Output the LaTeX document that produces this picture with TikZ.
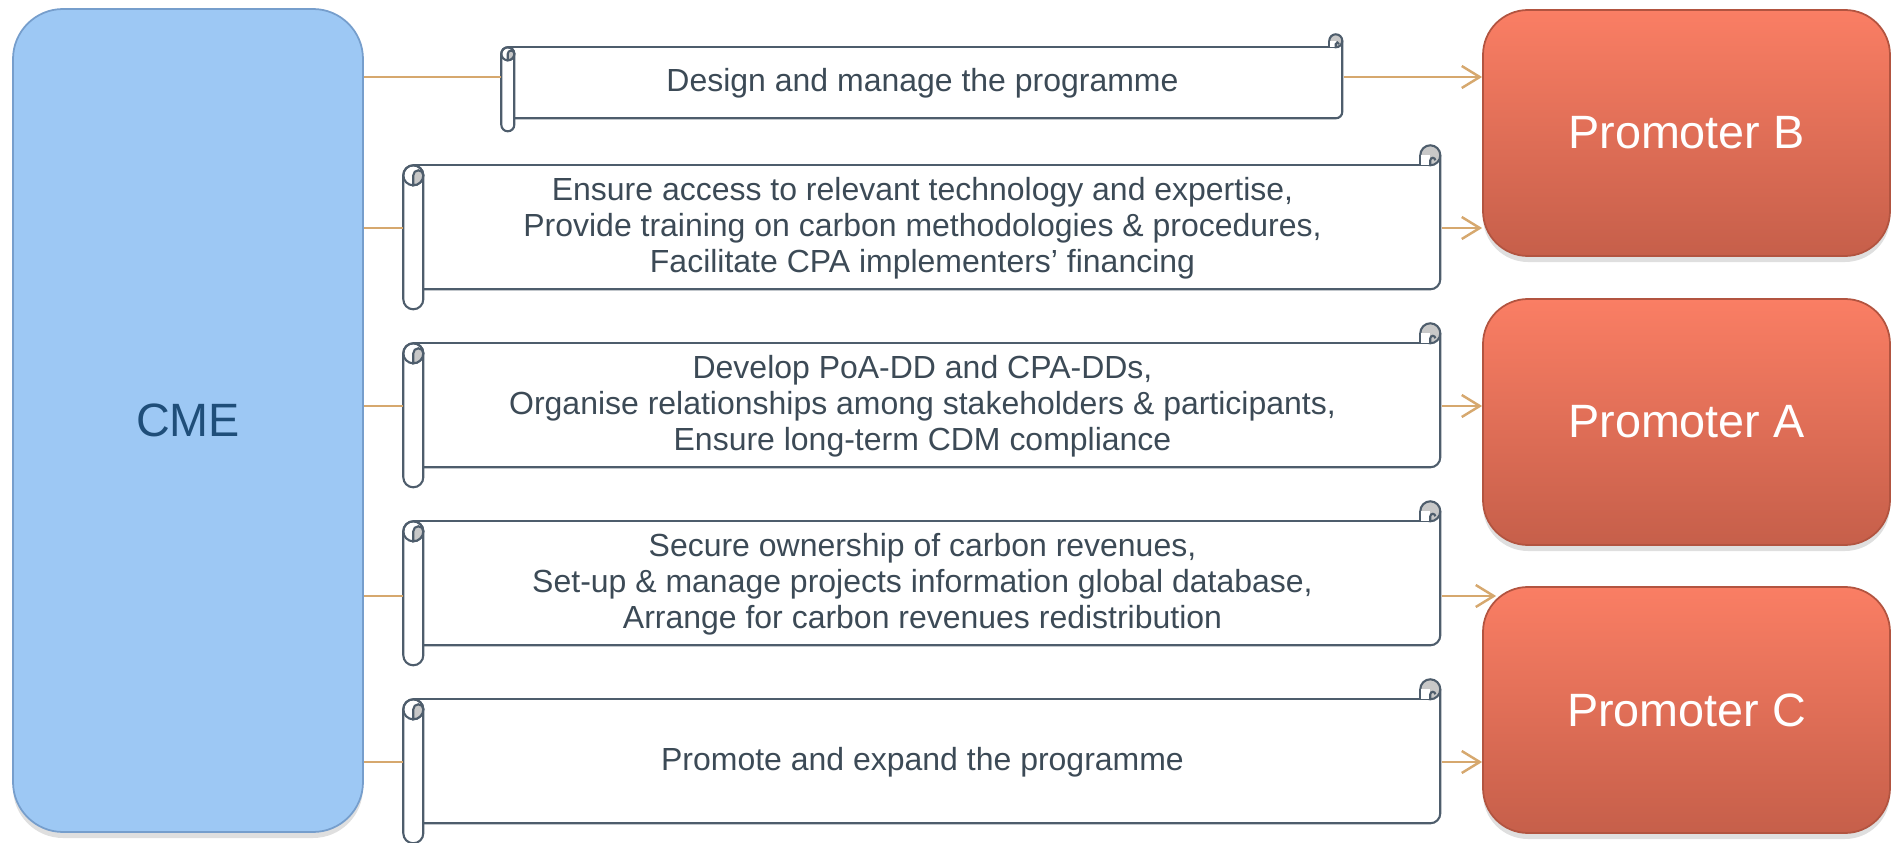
\documentclass[tikz,border=0pt]{standalone}
\usepackage{fontspec}
\setmainfont{Liberation Sans}
\usetikzlibrary{arrows.meta,calc,shadows}

\definecolor{cmeblue}{RGB}{157,200,244}
\definecolor{cmeedge}{RGB}{118,158,204}
\definecolor{cmetext}{RGB}{31,78,121}
\definecolor{promtop}{RGB}{250,126,100}
\definecolor{prombot}{RGB}{198,95,74}
\definecolor{promedge}{RGB}{178,84,64}
\definecolor{scrollgrey}{RGB}{78,93,108}
\definecolor{scrolltext}{RGB}{60,74,86}
\definecolor{curlgrey}{RGB}{200,200,200}
\definecolor{linktan}{RGB}{214,168,110}

\tikzset{
  cmebox/.style={rectangle, rounded corners=0.5cm, fill=cmeblue, draw=cmeedge,
    line width=0.5pt, text=cmetext, font=\fontsize{13.3}{16}\selectfont,
    drop shadow={shadow xshift=0pt, shadow yshift=-0.6mm, opacity=0.25}},
  promoter/.style={rectangle, rounded corners=0.45cm, top color=promtop,
    bottom color=prombot, draw=promedge, line width=0.5pt, text=white,
    minimum width=4.07cm, minimum height=2.46cm,
    font=\fontsize{13.3}{16}\selectfont,
    drop shadow={shadow xshift=0pt, shadow yshift=-0.6mm, opacity=0.25}},
  scrollbox/.style={rectangle, inner sep=0pt, align=center, text=scrolltext,
    font=\fontsize{9.1}{10.3}\selectfont},
  scrolline/.style={draw=scrollgrey, line width=0.6pt},
  link/.style={draw=linktan, line width=0.7pt},
  linkarrow/.style={link, -{Straight Barb[length=1.8mm,width=2.2mm]}}
}

% scroll outline round a node: #1 node, #2 roll radius, #3 width, #4 height
\newcommand{\scrollframe}[4]{%
  \begin{scope}[shift={(#1.north west)}]
    % paper
    \draw[scrolline] (#2,0) -- (#3-#2,0);
    \draw[scrolline] (#3,#2) -- (#3,-#4+#2)
      arc[start angle=0,end angle=-90,radius=#2] -- (2*#2,-#4);
    % curl at top right
    \filldraw[scrolline,fill=curlgrey] (#3-#2,#2) circle[radius=#2];
    \fill[white] (#3-2*#2,0) rectangle (#3-#2,#2);
    \draw[scrolline] (#3-2*#2,#2) -- (#3-2*#2,0);
    \draw[scrolline] (#3-#2,0) -- (#3-#2,#2/2)
      arc[start angle=180,end angle=0,radius=#2/4];
    % roll at left
    \filldraw[scrolline,fill=white] (0,-#2) arc[start angle=180,end angle=0,radius=#2]
      -- (2*#2,-#4-#2) arc[start angle=0,end angle=-180,radius=#2] -- cycle;
    \draw[scrolline] (#2,-#2) circle[radius=#2];
    \filldraw[scrolline,fill=curlgrey] (#2,-#2)
      arc[start angle=180,end angle=0,radius=#2/2]
      arc[start angle=0,end angle=-90,radius=#2] -- cycle;
  \end{scope}}

\begin{document}
\begin{tikzpicture}
  \useasboundingbox (0,0) rectangle (18.95,8.42);

  % entity and promoters
  \node[cmebox, minimum width=3.5cm, minimum height=8.23cm] (cme) at (1.88,4.215) {CME};
  \node[promoter] (pb) at (16.865,7.09) {Promoter B};
  \node[promoter] (pa) at (16.865,4.20) {Promoter A};
  \node[promoter] (pc) at (16.865,1.32) {Promoter C};

  % tasks
  \node[scrollbox, minimum width=8.41cm, minimum height=0.71cm] (s1) at (9.225,7.585)
    {Design and manage the programme};
  \node[scrollbox, minimum width=10.37cm, minimum height=1.24cm] (s2) at (9.225,6.14)
    {Ensure access to relevant technology and expertise,\\
     Provide training on carbon methodologies \& procedures,\\
     Facilitate CPA implementers’ financing};
  \node[scrollbox, minimum width=10.37cm, minimum height=1.24cm] (s3) at (9.225,4.36)
    {Develop PoA-DD and CPA-DDs,\\
     Organise relationships among stakeholders \& participants,\\
     Ensure long-term CDM compliance};
  \node[scrollbox, minimum width=10.37cm, minimum height=1.24cm] (s4) at (9.225,2.58)
    {Secure ownership of carbon revenues,\\
     Set-up \& manage projects information global database,\\
     Arrange for carbon revenues redistribution};
  \node[scrollbox, minimum width=10.37cm, minimum height=1.24cm] (s5) at (9.225,0.80)
    {Promote and expand the programme};

  \scrollframe{s1}{0.065}{8.41}{0.71}
  \scrollframe{s2}{0.1}{10.37}{1.24}
  \scrollframe{s3}{0.1}{10.37}{1.24}
  \scrollframe{s4}{0.1}{10.37}{1.24}
  \scrollframe{s5}{0.1}{10.37}{1.24}

  % connectors
  \coordinate (l1) at ($(s1.west)+(0,0.065)$);
  \coordinate (e1) at ($(s1.east)+(0,0.065)$);
  \coordinate (l4) at ($(s4.west)+(0,-0.12)$);
  \coordinate (e4) at ($(s4.east)+(0,-0.12)$);

  \draw[link] (cme.east |- l1) -- (l1);
  \draw[link] (cme.east |- s2.west) -- (s2.west);
  \draw[link] (cme.east |- s3.west) -- (s3.west);
  \draw[link] (cme.east |- l4) -- (l4);
  \draw[link] (cme.east |- s5.west) -- (s5.west);

  \draw[linkarrow] (e1) -- (pb.west |- e1);
  \draw[linkarrow] (s2.east) -- (pb.west |- s2.east);
  \draw[linkarrow] (s3.east) -- (pa.west |- s3.east);
  \draw[linkarrow] (e4) -- ($(pc.west |- e4)+(0.14,0)$);
  \draw[linkarrow] (s5.east) -- (pc.west |- s5.east);
\end{tikzpicture}
\end{document}
